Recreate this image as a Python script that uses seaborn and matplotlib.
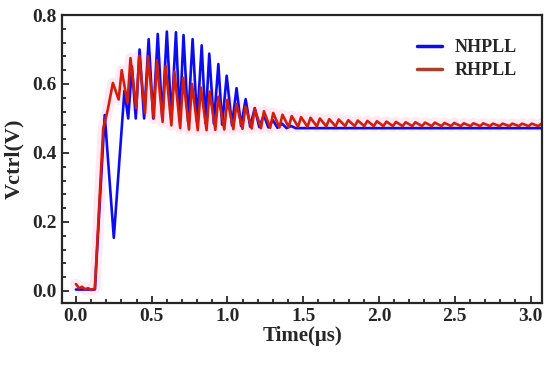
import pandas as pd
import matplotlib
matplotlib.use('Agg')
import matplotlib.pyplot as plt
import seaborn as sns
from matplotlib.ticker import MultipleLocator

# ! NHPLL vertices (time in us, Vctrl in V)
nh_t = [0.0, 0.125, 0.19, 0.25, 0.32, 0.345, 0.37, 0.395, 0.42, 0.45, 0.48, 0.51,
        0.54, 0.57, 0.60, 0.63, 0.66, 0.685, 0.71, 0.74, 0.77, 0.80, 0.83, 0.855,
        0.88, 0.91, 0.94, 0.965, 0.995, 1.03, 1.06, 1.09, 1.12, 1.15, 1.18, 1.21,
        1.24, 1.27, 1.30, 1.33, 1.36, 1.39, 1.42, 1.45, 3.1]
nh_v = [0.004, 0.004, 0.51, 0.154, 0.58, 0.50, 0.65, 0.50, 0.70, 0.50, 0.73, 0.50,
        0.745, 0.50, 0.752, 0.498, 0.75, 0.495, 0.742, 0.492, 0.73, 0.49, 0.712, 0.487,
        0.688, 0.485, 0.658, 0.482, 0.624, 0.48, 0.588, 0.478, 0.556, 0.476, 0.53, 0.475,
        0.51, 0.474, 0.495, 0.473, 0.485, 0.472, 0.478, 0.472, 0.472]

# ! RHPLL: start-up part, then ripple peaks and troughs
rh_start_t = [0.0, 0.02, 0.04, 0.06, 0.08, 0.10, 0.125, 0.18, 0.21]
rh_start_v = [0.02, 0.008, 0.012, 0.005, 0.008, 0.003, 0.006, 0.47, 0.525]

rh_peak_t = [0.244, 0.302, 0.360, 0.418, 0.476, 0.534, 0.592, 0.650, 0.708, 0.766,
             0.824, 0.882, 0.940, 0.999, 1.059, 1.119, 1.180, 1.241, 1.302, 1.363,
             1.424, 1.486, 1.548, 1.610, 1.672, 1.734, 1.797, 1.860, 1.923, 1.986,
             2.049, 2.112, 2.176, 2.240, 2.304, 2.368, 2.432, 2.496, 2.560, 2.624,
             2.688, 2.752, 2.816, 2.880, 2.944, 3.008, 3.072]
rh_peak_v = [0.603, 0.640, 0.675, 0.682, 0.680, 0.668, 0.652, 0.636, 0.618, 0.600,
             0.590, 0.578, 0.563, 0.554, 0.542, 0.534, 0.528, 0.521, 0.516, 0.511,
             0.507, 0.504, 0.502, 0.500, 0.498, 0.497, 0.495, 0.494, 0.493, 0.492,
             0.491, 0.490, 0.489, 0.489, 0.488, 0.488, 0.487, 0.487, 0.486, 0.486,
             0.486, 0.485, 0.485, 0.485, 0.485, 0.485, 0.485]
rh_trough_t = [0.282, 0.340, 0.398, 0.456, 0.514, 0.572, 0.630, 0.688, 0.746, 0.804,
               0.862, 0.920, 0.979, 1.039, 1.099, 1.160, 1.221, 1.282, 1.343, 1.404,
               1.466, 1.528, 1.590, 1.652, 1.714, 1.777, 1.840, 1.903, 1.966, 2.029,
               2.092, 2.156, 2.220, 2.284, 2.348, 2.412, 2.476, 2.540, 2.604, 2.668,
               2.732, 2.796, 2.860, 2.924, 2.988, 3.052]
rh_trough_v = [0.555, 0.545, 0.530, 0.515, 0.500, 0.490, 0.480, 0.472, 0.468, 0.466,
               0.466, 0.467, 0.468, 0.469, 0.470, 0.471, 0.472, 0.473, 0.474, 0.475,
               0.476, 0.476, 0.477, 0.477, 0.477, 0.478, 0.478, 0.478, 0.478, 0.478,
               0.478, 0.478, 0.478, 0.478, 0.478, 0.478, 0.478, 0.478, 0.478, 0.478,
               0.478, 0.478, 0.478, 0.478, 0.478, 0.478]

labels = ['NHPLL', 'RHPLL']
colors = {'NHPLL': '#0c0cf0', 'RHPLL': '#d41e0c'}

# build RHPLL vertex list: start-up, then peak / trough alternating
rh_t = list(rh_start_t)
rh_v = list(rh_start_v)
for i in range(len(rh_peak_t)):
    rh_t.append(rh_peak_t[i])
    rh_v.append(rh_peak_v[i])
    if i < len(rh_trough_t):
        rh_t.append(rh_trough_t[i])
        rh_v.append(rh_trough_v[i])

df = pd.concat([
    pd.DataFrame({'Time': nh_t, 'Vctrl': nh_v, 'PLL': labels[0]}),
    pd.DataFrame({'Time': rh_t, 'Vctrl': rh_v, 'PLL': labels[1]}),
], ignore_index=True)

sns.set_style('ticks')
plt.rcParams['font.family'] = ['Liberation Serif', 'DejaVu Serif']
plt.rcParams['font.weight'] = 'bold'

fig = plt.figure(figsize=(5.5, 3.65), dpi=100)
ax = fig.add_axes([0.1127, 0.1699, 0.8728, 0.789])

# soft pink glow behind the red trace
sns.lineplot(x='Time', y='Vctrl', data=df[df['PLL'] == 'RHPLL'], sort=False, estimator=None,
             color='#ff4fb0', alpha=0.12, linewidth=8, legend=False, ax=ax)
sns.lineplot(x='Time', y='Vctrl', hue='PLL', data=df, sort=False, estimator=None,
             palette=colors, linewidth=1.9, ax=ax)

ax.set_xlim(-0.092, 3.076)
ax.set_ylim(-0.035, 0.8)
ax.xaxis.set_major_locator(MultipleLocator(0.5))
ax.xaxis.set_minor_locator(MultipleLocator(0.1))
ax.yaxis.set_major_locator(MultipleLocator(0.2))
ax.yaxis.set_minor_locator(MultipleLocator(0.04))
ax.tick_params(which='both', direction='in', width=1.3, top=False, right=False, labelsize=14)
ax.tick_params(which='major', length=5)
ax.tick_params(which='minor', length=3)
for s in ax.spines.values():
    s.set_linewidth(1.6)
    s.set_visible(True)
for lbl in ax.get_xticklabels() + ax.get_yticklabels():
    lbl.set_fontweight('bold')

ax.set_xlabel('Time(μs)', fontsize=15, fontweight='bold', labelpad=1)
ax.set_ylabel('Vctrl(V)', fontsize=16, fontweight='bold', labelpad=6)

leg = ax.legend(loc='upper left', bbox_to_anchor=(0.74, 0.915), frameon=False,
                prop={'size': 13, 'weight': 'bold'}, handlelength=1.35,
                handletextpad=0.7, labelspacing=0.33, borderpad=0, borderaxespad=0)
for h in leg.get_lines():
    h.set_linewidth(2.5)
# legend key of the red trace shows as a darker brown-red in the reference
leg.get_lines()[1].set_color('#a8402a')

fig.savefig('out.png', dpi=100)
